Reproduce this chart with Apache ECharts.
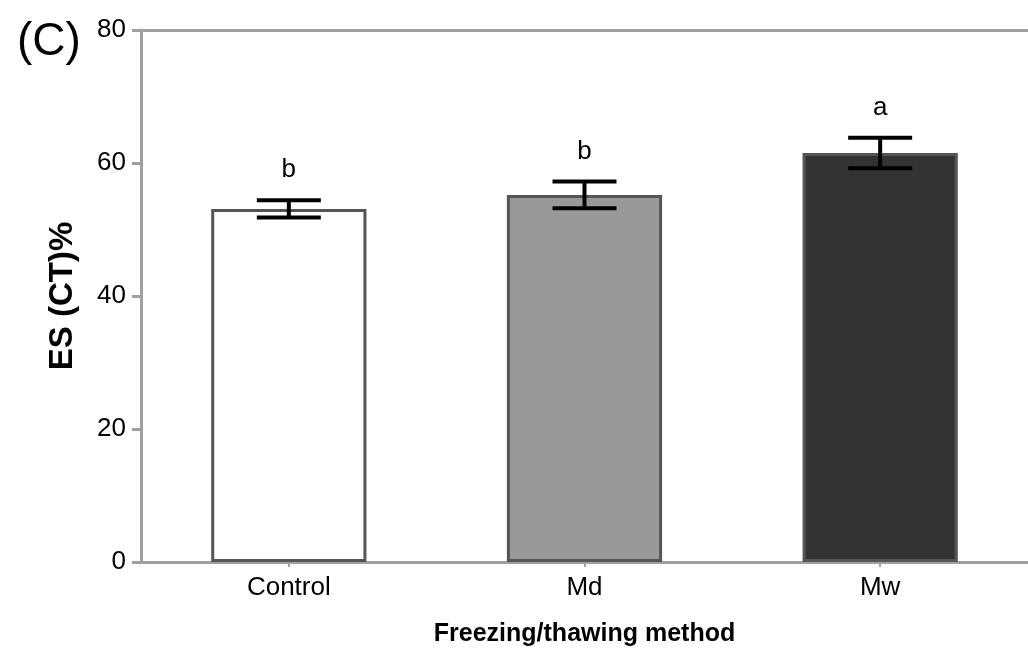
<!DOCTYPE html>
<html>
<head>
<meta charset="utf-8">
<script src="https://cdn.jsdelivr.net/npm/echarts@6/dist/echarts.min.js"></script>
<style>html,body{margin:0;padding:0;background:#fff;}#c{width:1028px;height:648px;}</style>
</head>
<body>
<div id="c"></div>
<script>
var categories = ['Control', 'Md', 'Mw'];
var means = [53.1, 55.2, 61.5];
var errors = [1.3, 2.0, 2.3];
var letters = ['b', 'b', 'a'];
var fills = ['#ffffff', '#999999', '#333333'];
var yTicks = [0, 20, 40, 60, 80];

var FONT = "'Liberation Sans', Arial, sans-serif";
var chart = echarts.init(document.getElementById('c'), null, {renderer: 'canvas'});

var option = {
  backgroundColor: '#ffffff',
  animation: false,
  title: {
    text: '(C)', left: 12, top: 14,
    textStyle: {fontFamily: FONT, fontSize: 46, fontWeight: 'normal', color: '#000'}
  },
  grid: {left: 141, right: 0, top: 30, bottom: 86, containLabel: false, outerBoundsMode: 'none'},
  xAxis: [{
    type: 'category', data: categories, position: 'bottom',
    name: 'Freezing/thawing method', nameLocation: 'middle', nameGap: 60,
    nameTextStyle: {fontFamily: FONT, fontSize: 25, fontWeight: 'bold', color: '#000'},
    axisLine: {show: true, lineStyle: {color: '#a0a0a0', width: 3}},
    axisTick: {show: true, alignWithLabel: true, length: 5, lineStyle: {color: '#a0a0a0', width: 2}},
    axisLabel: {fontFamily: FONT, fontSize: 26, color: '#000', margin: 13},
    splitLine: {show: false}
  }, {
    type: 'category', data: categories, position: 'top',
    axisLine: {show: true, lineStyle: {color: '#a0a0a0', width: 3}},
    axisTick: {show: false}, axisLabel: {show: false}, splitLine: {show: false}
  }],
  yAxis: {
    type: 'value', min: 0, max: 80, interval: 20,
    name: 'ES (CT)%', nameLocation: 'middle', nameGap: 62,
    nameTextStyle: {fontFamily: FONT, fontSize: 33, fontWeight: 'bold', color: '#000'},
    axisLine: {show: true, lineStyle: {color: '#a0a0a0', width: 3}},
    axisTick: {show: true, length: 9, lineStyle: {color: '#a0a0a0', width: 3}},
    axisLabel: {fontFamily: FONT, fontSize: 26, color: '#000', margin: 15,
      formatter: function (v) { return yTicks.indexOf(v) >= 0 ? String(v) : ''; }},
    splitLine: {show: false}
  },
  series: [{
    type: 'bar', barWidth: '52.5%',
    data: means.map(function (m, i) {
      return {value: m, itemStyle: {color: fills[i], borderColor: '#555555', borderWidth: 3}};
    }),
    z: 2
  }, {
    type: 'custom',
    data: means.map(function (m, i) { return [i, m, errors[i], letters[i]]; }),
    renderItem: function (params, api) {
      var i = api.value(0), m = api.value(1), e = api.value(2);
      var top = api.coord([i, m + e]);
      var bot = api.coord([i, m - e]);
      var half = 32;
      var ls = {stroke: '#000', lineWidth: 4};
      var letter = letters[params.dataIndex];
      return {
        type: 'group',
        children: [
          {type: 'line', shape: {x1: top[0], y1: top[1], x2: bot[0], y2: bot[1]}, style: ls},
          {type: 'line', shape: {x1: top[0] - half, y1: top[1], x2: top[0] + half, y2: top[1]}, style: ls},
          {type: 'line', shape: {x1: bot[0] - half, y1: bot[1], x2: bot[0] + half, y2: bot[1]}, style: ls},
          {type: 'text', x: top[0], y: top[1] - 30,
            style: {text: letter, fontFamily: FONT, fontSize: 26, fill: '#000', align: 'center', verticalAlign: 'middle'}}
        ]
      };
    },
    z: 5
  }]
};
chart.setOption(option);
</script>
</body>
</html>
